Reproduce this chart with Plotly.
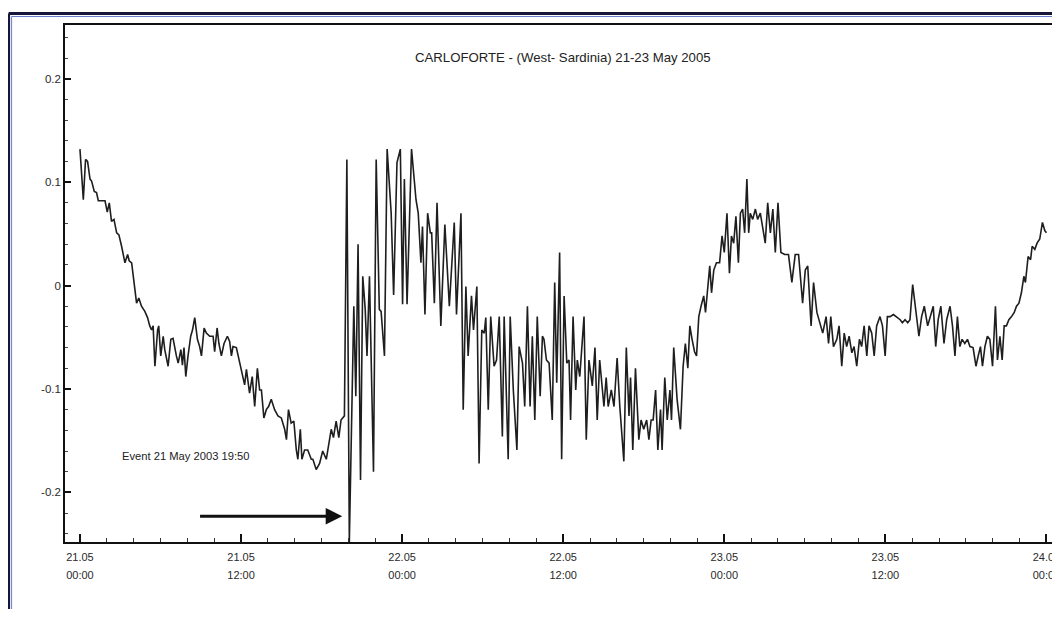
import pandas as pd
import plotly.graph_objects as go

# ---- data (minutes after 21.05.2005 00:00, sea level in m) ----
start_time = "2005-05-21 00:00"

minutes = [
    0, 15, 25, 34, 45, 52, 64, 74, 82, 112,
    122, 131, 141, 152, 164, 174, 186, 201, 213, 220,
    231, 242, 253, 263, 275, 290, 302, 312, 320, 327,
    335, 347, 352, 361, 372, 379, 394, 406, 416, 431,
    439, 451, 458, 465, 473, 483, 495, 503, 513, 525,
    535, 543, 555, 565, 580, 595, 602, 613, 621, 632,
    644, 659, 669, 677, 684, 699, 714, 728, 736, 744,
    758, 770, 781, 793, 803, 811, 822, 833, 843, 855,
    870, 885, 900, 915, 923, 932, 944, 956, 967, 974,
    985, 992, 1004, 1018, 1034, 1041, 1056, 1071, 1085, 1101,
    1108, 1123, 1133, 1145, 1157, 1167, 1182, 1193, 1204, 1224,
    1233, 1243, 1254, 1264, 1275, 1283, 1294, 1312, 1324, 1338,
    1346, 1361, 1373, 1391, 1402, 1417, 1432, 1442, 1450, 1462,
    1482, 1502, 1512, 1524, 1531, 1542, 1554, 1566, 1572, 1584,
    1596, 1613, 1631, 1651, 1673, 1683, 1703, 1713, 1725, 1735,
    1750, 1759, 1774, 1784, 1796, 1807, 1814, 1825, 1836, 1851,
    1862, 1874, 1888, 1896, 1914, 1923, 1937, 1953, 1963, 1978,
    1988, 2000, 2012, 2022, 2033, 2044, 2057, 2067, 2074, 2085,
    2097, 2111, 2122, 2131, 2144, 2153, 2164, 2176, 2186, 2193,
    2204, 2216, 2223, 2234, 2253, 2263, 2275, 2290, 2302, 2312,
    2323, 2335, 2342, 2352, 2361, 2375, 2387, 2401, 2413, 2431,
    2442, 2454, 2461, 2471, 2483, 2498, 2508, 2520, 2533, 2543,
    2553, 2562, 2573, 2583, 2595, 2602, 2614, 2625, 2637, 2644,
    2654, 2669, 2684, 2696, 2706, 2717, 2726, 2736, 2747, 2756,
    2766, 2776, 2788, 2796, 2806, 2815, 2823, 2833, 2845, 2859,
    2870, 2880, 2892, 2903, 2912, 2922, 2932, 2943, 2952, 2962,
    2971, 2981, 2989, 2996, 3007, 3019, 3029, 3041, 3051, 3063,
    3074, 3086, 3097, 3108, 3120, 3133, 3150, 3167, 3182, 3197,
    3212, 3230, 3242, 3253, 3268, 3279, 3294, 3309, 3320, 3335,
    3346, 3356, 3368, 3383, 3393, 3405, 3416, 3427, 3438, 3450,
    3460, 3472, 3484, 3494, 3505, 3517, 3527, 3539, 3550, 3561,
    3576, 3587, 3599, 3609, 3621, 3636, 3650, 3666, 3676, 3688,
    3700, 3710, 3722, 3735, 3750, 3762, 3774, 3789, 3802, 3814,
    3825, 3836, 3848, 3862, 3874, 3889, 3900, 3911, 3922, 3933,
    3943, 3955, 3967, 3978, 3992, 4005, 4015, 4025, 4034, 4045,
    4056, 4067, 4079, 4092, 4101, 4112, 4122, 4131, 4141, 4152,
    4164, 4176, 4186, 4197, 4208, 4219, 4226, 4238, 4249, 4256,
    4268, 4278, 4290, 4302, 4313, 4320,
]

sea_level = [
    0.132, 0.083, 0.122, 0.120, 0.103, 0.101, 0.091, 0.090, 0.082, 0.082,
    0.071, 0.080, 0.062, 0.064, 0.051, 0.049, 0.038, 0.022, 0.030, 0.024,
    0.022, 0.003, -0.017, -0.012, -0.020, -0.025, -0.031, -0.039, -0.043, -0.039,
    -0.078, -0.043, -0.039, -0.068, -0.049, -0.062, -0.078, -0.052, -0.051, -0.068,
    -0.075, -0.062, -0.077, -0.060, -0.088, -0.068, -0.049, -0.043, -0.031, -0.052,
    -0.059, -0.068, -0.041, -0.046, -0.049, -0.049, -0.064, -0.041, -0.056, -0.068,
    -0.056, -0.049, -0.054, -0.068, -0.059, -0.060, -0.075, -0.088, -0.096, -0.081,
    -0.104, -0.088, -0.117, -0.080, -0.101, -0.101, -0.128, -0.120, -0.117, -0.110,
    -0.120, -0.126, -0.128, -0.139, -0.149, -0.120, -0.133, -0.131, -0.159, -0.168,
    -0.139, -0.168, -0.159, -0.159, -0.168, -0.168, -0.178, -0.172, -0.160, -0.168,
    -0.159, -0.139, -0.147, -0.131, -0.147, -0.130, -0.126, 0.122, -0.248, -0.020,
    -0.107, 0.040, -0.188, 0.009, -0.023, -0.068, 0.009, -0.180, 0.122, -0.023,
    -0.025, -0.068, 0.132, 0.070, -0.009, 0.119, 0.132, -0.018, 0.103, -0.018,
    0.132, 0.083, 0.070, 0.022, 0.057, -0.028, 0.070, 0.051, 0.051, -0.017,
    0.080, -0.039, 0.059, -0.020, 0.061, -0.028, 0.070, -0.120, -0.001, -0.068,
    -0.010, -0.043, -0.001, -0.172, -0.043, -0.046, -0.031, -0.120, -0.030, -0.078,
    -0.072, -0.030, -0.146, -0.030, -0.168, -0.030, -0.101, -0.159, -0.059, -0.075,
    -0.117, -0.020, -0.117, -0.049, -0.130, -0.030, -0.107, -0.049, -0.052, -0.072,
    -0.075, -0.130, 0.003, -0.094, 0.032, -0.168, -0.010, -0.075, -0.072, -0.130,
    -0.030, -0.101, -0.072, -0.088, -0.030, -0.149, -0.072, -0.097, -0.060, -0.130,
    -0.072, -0.101, -0.117, -0.089, -0.117, -0.101, -0.117, -0.070, -0.117, -0.170,
    -0.060, -0.126, -0.089, -0.159, -0.080, -0.149, -0.130, -0.139, -0.130, -0.149,
    -0.130, -0.130, -0.101, -0.159, -0.120, -0.159, -0.089, -0.130, -0.101, -0.130,
    -0.060, -0.110, -0.139, -0.078, -0.056, -0.080, -0.039, -0.052, -0.064, -0.068,
    -0.030, -0.020, -0.010, -0.026, -0.004, 0.019, -0.007, 0.015, 0.022, 0.022,
    0.048, 0.032, 0.070, 0.012, 0.048, 0.041, 0.067, 0.022, 0.070, 0.074,
    0.051, 0.103, 0.051, 0.070, 0.064, 0.074, 0.064, 0.070, 0.057, 0.041,
    0.080, 0.051, 0.074, 0.032, 0.080, 0.032, 0.030, 0.030, 0.003, 0.030,
    0.030, -0.017, 0.015, 0.019, -0.039, 0.003, -0.026, -0.039, -0.046, -0.030,
    -0.056, -0.030, -0.059, -0.052, -0.039, -0.078, -0.046, -0.059, -0.049, -0.065,
    -0.059, -0.078, -0.052, -0.059, -0.039, -0.068, -0.039, -0.046, -0.068, -0.039,
    -0.030, -0.039, -0.068, -0.030, -0.030, -0.028, -0.030, -0.033, -0.036, -0.033,
    -0.036, -0.033, 0.001, -0.020, -0.049, -0.030, -0.020, -0.039, -0.030, -0.020,
    -0.059, -0.033, -0.020, -0.056, -0.033, -0.020, -0.039, -0.068, -0.030, -0.059,
    -0.052, -0.056, -0.052, -0.059, -0.060, -0.078, -0.068, -0.059, -0.078, -0.059,
    -0.049, -0.052, -0.078, -0.020, -0.072, -0.049, -0.072, -0.039, -0.039, -0.033,
    -0.030, -0.026, -0.020, -0.017, -0.007, 0.009, 0.003, 0.028, 0.025, 0.038,
    0.035, 0.041, 0.045, 0.061, 0.053, 0.051,
]

x_tick_times = ["2005-05-21 00:00", "2005-05-21 12:00", "2005-05-22 00:00",
                "2005-05-22 12:00", "2005-05-23 00:00", "2005-05-23 12:00",
                "2005-05-24 00:00"]
x_tick_dates = ["21.05", "21.05", "22.05", "22.05", "23.05", "23.05", "24.05"]
x_tick_hours = ["00:00", "12:00", "00:00", "12:00", "00:00", "12:00", "00:00"]
y_tick_values = [-0.2, -0.1, 0.0, 0.1, 0.2]
y_tick_labels = ["-0.2", "-0.1", "0", "0.1", "0.2"]

title_text = "CARLOFORTE - (West- Sardinia) 21-23 May 2005"
event_text = "Event 21 May 2003 19:50"
event_time = "2005-05-21 19:50"
arrow_tail_time = "2005-05-21 08:50"
arrow_level = -0.223

x_range = ["2005-05-20 22:53:06", "2005-05-24 00:51:36"]
y_range = [-0.248, 0.252]

assert len(minutes) == len(sea_level)
times = pd.Timestamp(start_time) + pd.to_timedelta(minutes, unit="min")

FONT = "Liberation Sans, Arial, sans-serif"
SPAN = "<span style='font-size:11px'>{}</span>"
x_tick_text = [SPAN.format(d) + "<br>" + SPAN.format(h)
               for d, h in zip(x_tick_dates, x_tick_hours)]

fig = go.Figure()
fig.add_trace(go.Scatter(
    x=times, y=sea_level, mode="lines",
    line=dict(color="#1e1e1e", width=1.6),
    showlegend=False, hoverinfo="skip",
))

# page has an 8px body margin: figure is 1052x601 placed at (8, 8)
fig.update_layout(
    width=1052, height=601, autosize=False,
    margin=dict(l=57, r=0, t=17, b=67),
    paper_bgcolor="white", plot_bgcolor="white",
    font=dict(family=FONT, size=12, color="#333333"),
    showlegend=False,
)

fig.update_xaxes(
    type="date", range=x_range,
    tickmode="array", tickvals=x_tick_times, ticktext=x_tick_text,
    ticks="inside", ticklen=8, tickwidth=1.5, tickcolor="#111111",
    minor=dict(ticks="inside", ticklen=4, tickwidth=1, tickcolor="#333333",
               tickmode="linear", tick0="2005-05-21 00:00", dtick=2 * 3600 * 1000),
    showline=True, linewidth=2, linecolor="#111111", mirror=True,
    showgrid=False, zeroline=False, ticklabeloverflow="allow",
    tickfont=dict(family=FONT, size=14, color="#2a2a2a"),
)
fig.update_yaxes(
    range=y_range,
    tickmode="array", tickvals=y_tick_values, ticktext=y_tick_labels,
    ticks="inside", ticklen=6, tickwidth=2, tickcolor="#111111",
    minor=dict(ticks="inside", ticklen=3, tickwidth=1, tickcolor="#444444",
               tickmode="linear", tick0=0, dtick=0.02),
    showline=True, linewidth=1.5, linecolor="#111111",
    showgrid=False, zeroline=False,
    tickfont=dict(family=FONT, size=11.5, color="#2a2a2a"),
)

# title and event label
fig.add_annotation(text=title_text, xref="paper", yref="paper", x=0.502, y=0.937,
                   xanchor="center", yanchor="middle", showarrow=False,
                   font=dict(family=FONT, size=13.2, color="#222222"))
fig.add_annotation(text=event_text, xref="paper", yref="paper", x=0.0553, y=0.166,
                   xanchor="left", yanchor="middle", showarrow=False,
                   font=dict(family=FONT, size=11.2, color="#222222"))
# arrow pointing at the event
fig.add_annotation(x=event_time, y=arrow_level, ax=arrow_tail_time, ay=arrow_level,
                   xref="x", yref="y", axref="x", ayref="y", text="",
                   showarrow=True, arrowhead=2, arrowsize=1.1, arrowwidth=3,
                   arrowcolor="#111111", standoff=4)

# outer navy frame (left and top edges of the page frame)
fx = (8.5 - 65) / 995
fy = (542 - 13.5) / 517
bx = (11.5 - 65) / 995
by = (542 - 16.5) / 517
fig.add_shape(type="line", xref="paper", yref="paper", x0=fx, x1=fx, y0=-0.2, y1=fy,
              line=dict(color="#16163a", width=3))
fig.add_shape(type="line", xref="paper", yref="paper", x0=fx, x1=1.05, y0=fy, y1=fy,
              line=dict(color="#16163a", width=3))
fig.add_shape(type="line", xref="paper", yref="paper", x0=bx, x1=bx, y0=-0.2, y1=by,
              line=dict(color="#6a7cd0", width=1))
fig.add_shape(type="line", xref="paper", yref="paper", x0=bx, x1=1.05, y0=by, y1=by,
              line=dict(color="#6a7cd0", width=1))

fig.write_html("out.html")
